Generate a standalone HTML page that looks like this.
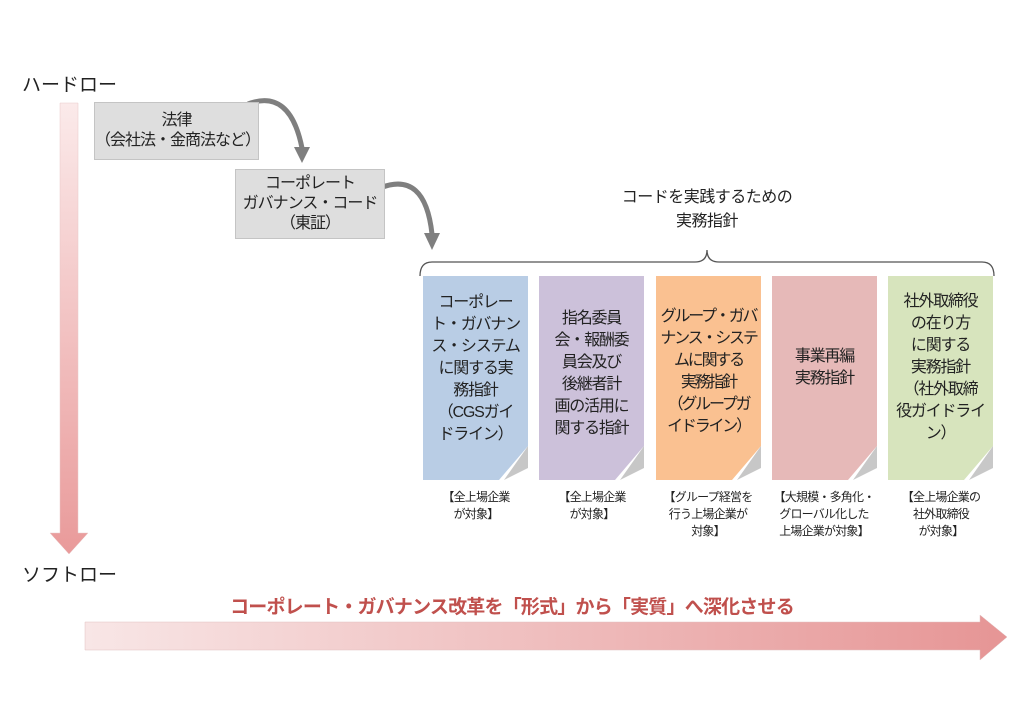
<!DOCTYPE html>
<html><head><meta charset="utf-8"><style>
body{margin:0;width:1024px;height:709px;background:#fff;position:relative;overflow:hidden;font-family:"Liberation Sans","Noto Sans CJK JP",sans-serif;color:#222}
.a{position:absolute}
.box{position:absolute;background:#dedede;border:1px solid #c4c4c4;text-align:center;font-size:16px;line-height:20px;box-sizing:border-box;white-space:nowrap;letter-spacing:-1px}
.card{position:absolute;top:276px;width:105px;height:204px;text-align:center;font-size:16px;line-height:22px;box-sizing:border-box;padding-top:14px;white-space:nowrap;letter-spacing:-1.2px;clip-path:polygon(0 0,100% 0,100% 170px,76px 100%,0 100%)}
.cap{position:absolute;top:489px;width:120px;text-align:center;font-size:12px;line-height:17px;white-space:nowrap;letter-spacing:-0.8px}
</style></head><body>
<div class="a" style="left:22px;top:70px;font-size:19px">ハードロー</div>
<div class="a" style="left:22px;top:560px;font-size:19px">ソフトロー</div>
<svg class="a" style="left:0;top:0" width="1024" height="709">
<defs>
<linearGradient id="v" x1="0" y1="0" x2="0" y2="1"><stop offset="0" stop-color="#fbeaea"/><stop offset="1" stop-color="#e99a9a"/></linearGradient>
<linearGradient id="h" x1="0" y1="0" x2="1" y2="0"><stop offset="0" stop-color="#f8e6e6"/><stop offset="1" stop-color="#e69595"/></linearGradient>
</defs>
<path d="M60 103 H78 V533 H88 L69 554 L50 533 H60 Z" fill="url(#v)" stroke="#e8c8c8" stroke-width="0.5"/>
<path d="M85 622 H980 V615 L1007 637 L980 660 V650 H85 Z" fill="url(#h)" stroke="#e0c0c0" stroke-width="0.5"/>
<path d="M248 104 Q290 88 302 148" fill="none" stroke="#7f7f7f" stroke-width="5"/>
<path d="M294 147 L310 147 L302 163 Z" fill="#7f7f7f"/>
<path d="M380 188 Q425 170 432 234" fill="none" stroke="#7f7f7f" stroke-width="5"/>
<path d="M424 233 L440 233 L432 250 Z" fill="#7f7f7f"/>
<path d="M420 276 Q420 262 432 262 H695 Q707 262 707 250 Q707 262 719 262 H982 Q994 262 994 276" fill="none" stroke="#555" stroke-width="1.3"/>
</svg>
<div class="box" style="left:94px;top:102px;width:165px;height:58px;padding-top:8px">法律<br>（会社法・金商法など）</div>
<div class="box" style="left:235px;top:169px;width:150px;height:70px;padding-top:4px">コーポレート<br>ガバナンス・コード<br>（東証）</div>
<div class="a" style="left:587px;top:186px;width:240px;text-align:center;font-size:16px;line-height:24px;letter-spacing:-0.5px">コードを実践するための<br>実務指針</div>
<div class="card" style="left:423px;background:#b9cde5;padding-top:16px">コーポレー<br>ト・ガバナン<br>ス・システム<br>に関する実<br>務指針<br>（CGSガイ<br>ドライン）</div>
<div class="card" style="left:539px;background:#ccc1da;padding-top:32px">指名委員<br>会・報酬委<br>員会及び<br>後継者計<br>画の活用に<br>関する指針</div>
<div class="card" style="left:656px;background:#fac191;padding-top:30px;letter-spacing:-2.2px">グループ・ガバ<br>ナンス・システ<br>ムに関する<br>実務指針<br>（グループガ<br>イドライン）</div>
<div class="card" style="left:772px;background:#e6b9b8;padding-top:70px">事業再編<br>実務指針</div>
<div class="card" style="left:888px;background:#d7e4bd;padding-top:15px">社外取締役<br>の在り方<br>に関する<br>実務指針<br>（社外取締<br>役ガイドライ<br>ン）</div>
<svg class="a" style="left:0;top:0" width="1024" height="709">
<g fill="#b0b0b0" opacity="0.7">
<path d="M528 446 L504 480 L528 468 Z"/>
<path d="M644 446 L620 480 L644 468 Z"/>
<path d="M761 446 L737 480 L761 468 Z"/>
<path d="M877 446 L853 480 L877 468 Z"/>
<path d="M993 446 L969 480 L993 468 Z"/>
</g>
</svg>
<div class="cap" style="left:416px">【全上場企業<br>が対象】</div>
<div class="cap" style="left:532px">【全上場企業<br>が対象】</div>
<div class="cap" style="left:648px">【グループ経営を<br>行う上場企業が<br>対象】</div>
<div class="cap" style="left:764px">【大規模・多角化・<br>グローバル化した<br>上場企業が対象】</div>
<div class="cap" style="left:881px">【全上場企業の<br>社外取締役<br>が対象】</div>
<div class="a" style="left:0;top:592px;width:1024px;text-align:center;font-size:19px;font-weight:bold;color:#c0504d;letter-spacing:-0.8px;white-space:nowrap">コーポレート・ガバナンス改革を「形式」から「実質」へ深化させる</div>
</body></html>
